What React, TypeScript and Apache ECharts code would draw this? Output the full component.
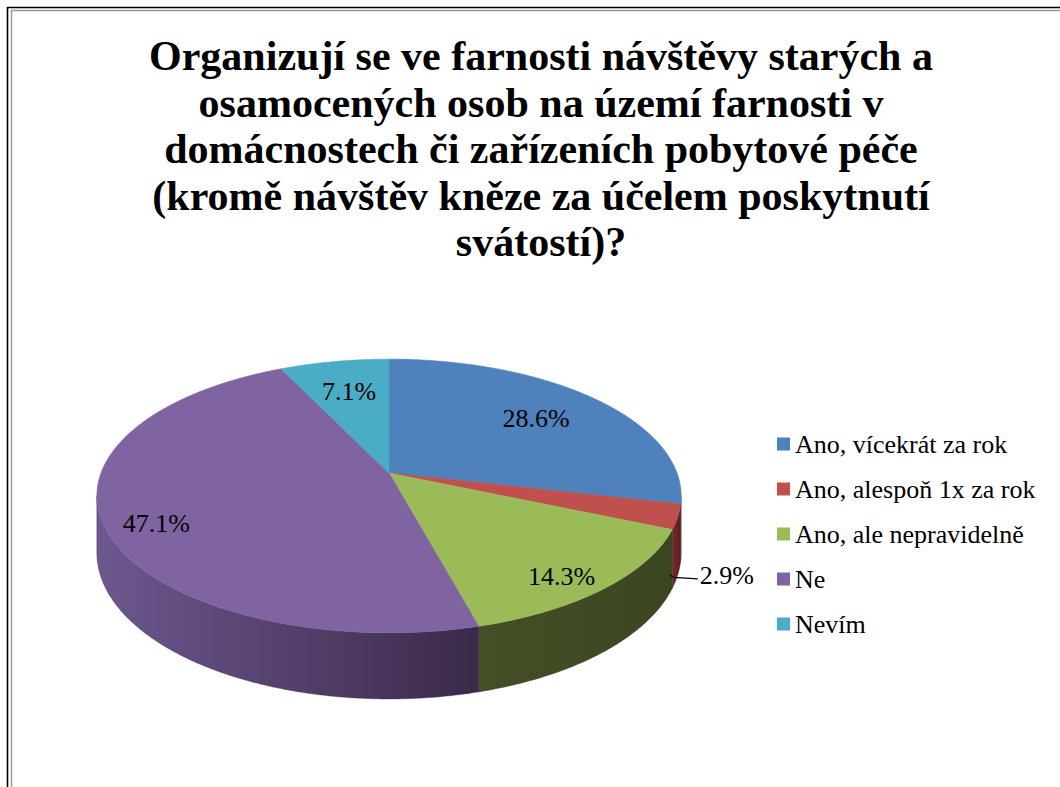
import React, { useEffect, useRef } from 'react';
import * as echarts from 'echarts';

const categories = [
  'Ano, vícekrát za rok',
  'Ano, alespoň 1x za rok',
  'Ano, ale nepravidelně',
  'Ne',
  'Nevím',
];
const values = [28.6, 2.9, 14.3, 47.1, 7.1];
const topColors = ['#4F81BD', '#C0504D', '#9BBB59', '#8064A2', '#4BACC6'];
const sideLeft = ['#3A6090', '#7A2B29', '#454F26', '#6D578F', '#2F7285'];
const sideRight = ['#2C4A70', '#5A1D1C', '#3B4521', '#3A2A49', '#245866'];
const titleLines = [
  'Organizují se ve farnosti návštěvy starých a',
  'osamocených osob na území farnosti v',
  'domácnostech či zařízeních pobytové péče',
  '(kromě návštěv kněze za účelem poskytnutí',
  'svátostí)?',
];

const SERIF = 'Liberation Serif';
// 3D pie geometry (screen layout)
const GEO = { cx: 389, cy: 473, A: 288, B: 133, k: 0.168, T: 55 };
const STEP = Math.PI / 360;
const total = values.reduce((a, b) => a + b, 0);
const thR = Math.acos(-GEO.k);
const thL = 2 * Math.PI - thR;

function project(theta: number, r: number, drop: number): number[] {
  const u = r * Math.sin(theta);
  const v = r * Math.cos(theta);
  const d = 1 + GEO.k * v;
  return [GEO.cx + (GEO.A * u) / d, GEO.cy - (GEO.B * v) / d + (drop * GEO.T) / d];
}

function arcPoints(s: number, e: number, r: number, drop: number): number[][] {
  const n = Math.max(2, Math.ceil((e - s) / STEP));
  const pts: number[][] = [];
  for (let j = 0; j <= n; j++) pts.push(project(s + ((e - s) * j) / n, r, drop));
  return pts;
}

function makeRenderItem(i: number) {
  return (_params: any, api: any) => {
    const val = api.value(0) as number;
    const before = values.slice(0, i).reduce((a, b) => a + b, 0);
    const a0 = (before / total) * 2 * Math.PI;
    const a1 = ((before + val) / total) * 2 * Math.PI;
    const children: any[] = [];
    const s = Math.max(a0, thR);
    const e = Math.min(a1, thL);
    if (e > s) {
      const pts = arcPoints(s, e, 1, 0).concat(arcPoints(s, e, 1, 1).reverse());
      children.push({
        type: 'polygon',
        z2: 1,
        shape: { points: pts },
        style: {
          fill: new echarts.graphic.LinearGradient(0, 0, 1, 0, [
            { offset: 0, color: sideLeft[i] },
            { offset: 1, color: sideRight[i] },
          ]),
          stroke: sideRight[i],
          lineWidth: 0.4,
        },
      });
    }
    const top = [[GEO.cx, GEO.cy]].concat(arcPoints(a0, a1, 1, 0));
    children.push({
      type: 'polygon',
      z2: 10,
      shape: { points: top },
      style: { fill: topColors[i], stroke: topColors[i], lineWidth: 0.6 },
    });
    const mid = (a0 + a1) / 2;
    const label = ((val / total) * 100).toFixed(1) + '%';
    if (val / total < 0.05) {
      const p = project(mid, 1, 1.0);
      const start = [p[0] - 8, p[1]];
      const end = [p[0] + 20, p[1] + 4];
      children.push({
        type: 'polyline',
        z2: 20,
        shape: { points: [start, [start[0] + 4, start[1] + 2.5], end] },
        style: { stroke: '#000', lineWidth: 1.3, fill: null },
      });
      children.push({
        type: 'text',
        z2: 21,
        style: {
          text: label,
          x: end[0] + 2,
          y: end[1] - 3,
          align: 'left',
          verticalAlign: 'middle',
          fontSize: 26,
          fontFamily: SERIF,
          fill: '#000',
        },
      });
    } else {
      const front = Math.cos(mid) < 0;
      const p = project(mid, front ? 0.82 : 0.7, front ? 0.18 : 0);
      children.push({
        type: 'text',
        z2: 21,
        style: {
          text: label,
          x: p[0],
          y: p[1],
          align: 'center',
          verticalAlign: 'middle',
          fontSize: 26,
          fontFamily: SERIF,
          fill: '#000',
        },
      });
    }
    return { type: 'group', children };
  };
}

const option: any = {
  animation: false,
  backgroundColor: '#fff',
  title: {
    text: titleLines.join('\n'),
    left: 541,
    top: 33,
    padding: 0,
    textAlign: 'center',
    textStyle: {
      fontSize: 42,
      fontWeight: 'bold',
      fontFamily: SERIF,
      color: '#000',
      lineHeight: 46.5,
    },
  },
  legend: {
    orient: 'vertical',
    left: 777,
    top: 431,
    padding: 0,
    itemWidth: 13,
    itemHeight: 13,
    itemGap: 19,
    icon: 'rect',
    data: categories,
    textStyle: { fontSize: 26, fontFamily: SERIF, color: '#000', lineHeight: 26 },
  },
  graphic: {
    elements: [
      { type: 'line', silent: true, shape: { x1: 7.5, y1: 7, x2: 7.5, y2: 787 }, style: { stroke: '#000', lineWidth: 1.6 } },
      { type: 'line', silent: true, shape: { x1: 7, y1: 7.5, x2: 1060, y2: 7.5 }, style: { stroke: '#000', lineWidth: 1.6 } },
      { type: 'line', silent: true, shape: { x1: 11.5, y1: 10.5, x2: 11.5, y2: 787 }, style: { stroke: '#9a9a9a', lineWidth: 1.5 } },
      { type: 'line', silent: true, shape: { x1: 11, y1: 10.5, x2: 1060, y2: 10.5 }, style: { stroke: '#9a9a9a', lineWidth: 1.5 } },
    ],
  },
  series: categories.map((name, i) => ({
    type: 'custom',
    name,
    coordinateSystem: 'none',
    silent: true,
    z: 2,
    itemStyle: { color: topColors[i] },
    renderItem: makeRenderItem(i),
    data: [[values[i]]],
  })),
};

export default function App() {
  const ref = useRef<HTMLDivElement>(null);
  useEffect(() => {
    const chart = echarts.init(ref.current as HTMLDivElement, null, { renderer: 'svg' });
    chart.setOption(option);
    return () => chart.dispose();
  }, []);
  return (
    <div
      ref={ref}
      style={{ position: 'absolute', left: 0, top: 0, width: 1060, height: 787, background: '#fff' }}
    />
  );
}
